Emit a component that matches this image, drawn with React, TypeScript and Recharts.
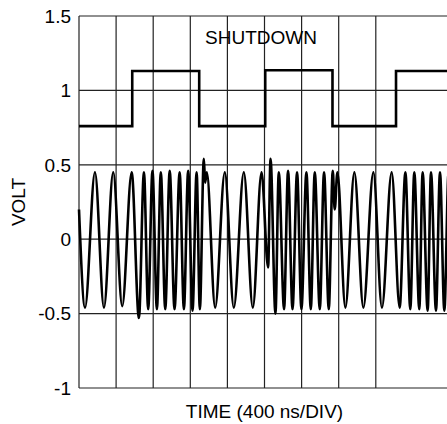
import React from 'react';
import { LineChart, Line, XAxis, YAxis, CartesianGrid, Label } from 'recharts';

// axis ticks
const timeTicks = [0, 400, 800, 1200, 1600, 2000, 2400, 2800, 3200, 3600, 4000];
const voltTicks = [-1, -0.5, 0, 0.5, 1, 1.5];

// SHUTDOWN control signal (step levels, ns / V)
const shutdownTimes = [0, 574, 1296, 2008, 2733, 3418, 4000];
const shutdownVolts = [0.76, 1.13, 0.76, 1.135, 0.76, 1.13, 1.13];

// output waveform turning points (ns / V)
const waveTimes = [
    0, 65, 172, 269, 369, 466, 568,
    646, 700, 746, 792, 840, 882, 930, 978, 1030, 1085, 1131, 1177, 1224, 1268, 1303,
    1346, 1360, 1378,
    1468, 1572, 1669, 1777, 1874, 1968, 2039, 2065, 2118,
    2154, 2211, 2254, 2302, 2351, 2398, 2452, 2499, 2542, 2596, 2642, 2693, 2736, 2757, 2786,
    2872, 2969, 3066, 3174, 3266, 3371, 3457,
    3519, 3572, 3615, 3669, 3705, 3759, 3795, 3849, 3892, 3939, 3985, 4000
];
const waveVolts = [
    0.2, -0.46, 0.45, -0.46, 0.45, -0.45, 0.45,
    -0.53, 0.45, -0.47, 0.46, -0.47, 0.45, -0.47, 0.46, -0.47, 0.45, -0.47, 0.46, -0.48, 0.45, -0.47,
    0.54, 0.38, 0.45,
    -0.46, 0.45, -0.46, 0.45, -0.46, 0.45, -0.19, 0.54, -0.5,
    0.45, -0.47, 0.46, -0.47, 0.45, -0.47, 0.45, -0.47, 0.45, -0.47, 0.45, -0.47, 0.46, 0.2, 0.45,
    -0.46, 0.45, -0.46, 0.45, -0.46, 0.45, -0.46,
    0.45, -0.47, 0.45, -0.47, 0.45, -0.48, 0.45, -0.48, 0.45, -0.48, 0.45, 0.3
];

const font = '"Liberation Sans", Arial, sans-serif';

const App: React.FC = () => {
    const shutdownData = shutdownTimes.map((t, i) => ({ t, v: shutdownVolts[i] }));
    const waveData = waveTimes.map((t, i) => ({ t, v: waveVolts[i] }));

    return (
        <div style={{ position: 'absolute', left: 0, top: 0, width: 447, height: 424, overflow: 'hidden', background: '#fff' }}>
            <LineChart width={452} height={424} margin={{ top: 16, right: 2, bottom: 0, left: 0 }}>
                <CartesianGrid stroke="#222" strokeWidth={1.2} />
                <XAxis
                    type="number"
                    dataKey="t"
                    domain={[0, 4000]}
                    ticks={timeTicks}
                    tick={() => <g />}
                    tickLine={false}
                    axisLine={false}
                    height={36}
                >
                    <Label
                        value="TIME (400 ns/DIV)"
                        position="insideBottom"
                        offset={6}
                        style={{ fontFamily: font, fontSize: 19, fill: '#000' }}
                    />
                </XAxis>
                <YAxis
                    type="number"
                    domain={[-1, 1.5]}
                    ticks={voltTicks}
                    width={79}
                    tickLine={false}
                    axisLine={false}
                    tick={{ fontFamily: font, fontSize: 19, fill: '#000' }}
                >
                    <Label
                        value="VOLT"
                        angle={-90}
                        position="insideLeft"
                        offset={18}
                        style={{ fontFamily: font, fontSize: 19, fill: '#000', textAnchor: 'middle' }}
                    />
                </YAxis>
                <Line
                    data={shutdownData}
                    dataKey="v"
                    type="stepAfter"
                    stroke="#000"
                    strokeWidth={2.6}
                    dot={false}
                    isAnimationActive={false}
                />
                <Line
                    data={waveData}
                    dataKey="v"
                    type="monotone"
                    stroke="#000"
                    strokeWidth={2.6}
                    dot={false}
                    isAnimationActive={false}
                />
            </LineChart>
            <svg width={447} height={424} style={{ position: 'absolute', left: 0, top: 0, pointerEvents: 'none' }}>
                <text x={261} y={44} textAnchor="middle" fontFamily={font} fontSize={19} fill="#000">
                    SHUTDOWN
                </text>
            </svg>
        </div>
    );
};

export default App;
